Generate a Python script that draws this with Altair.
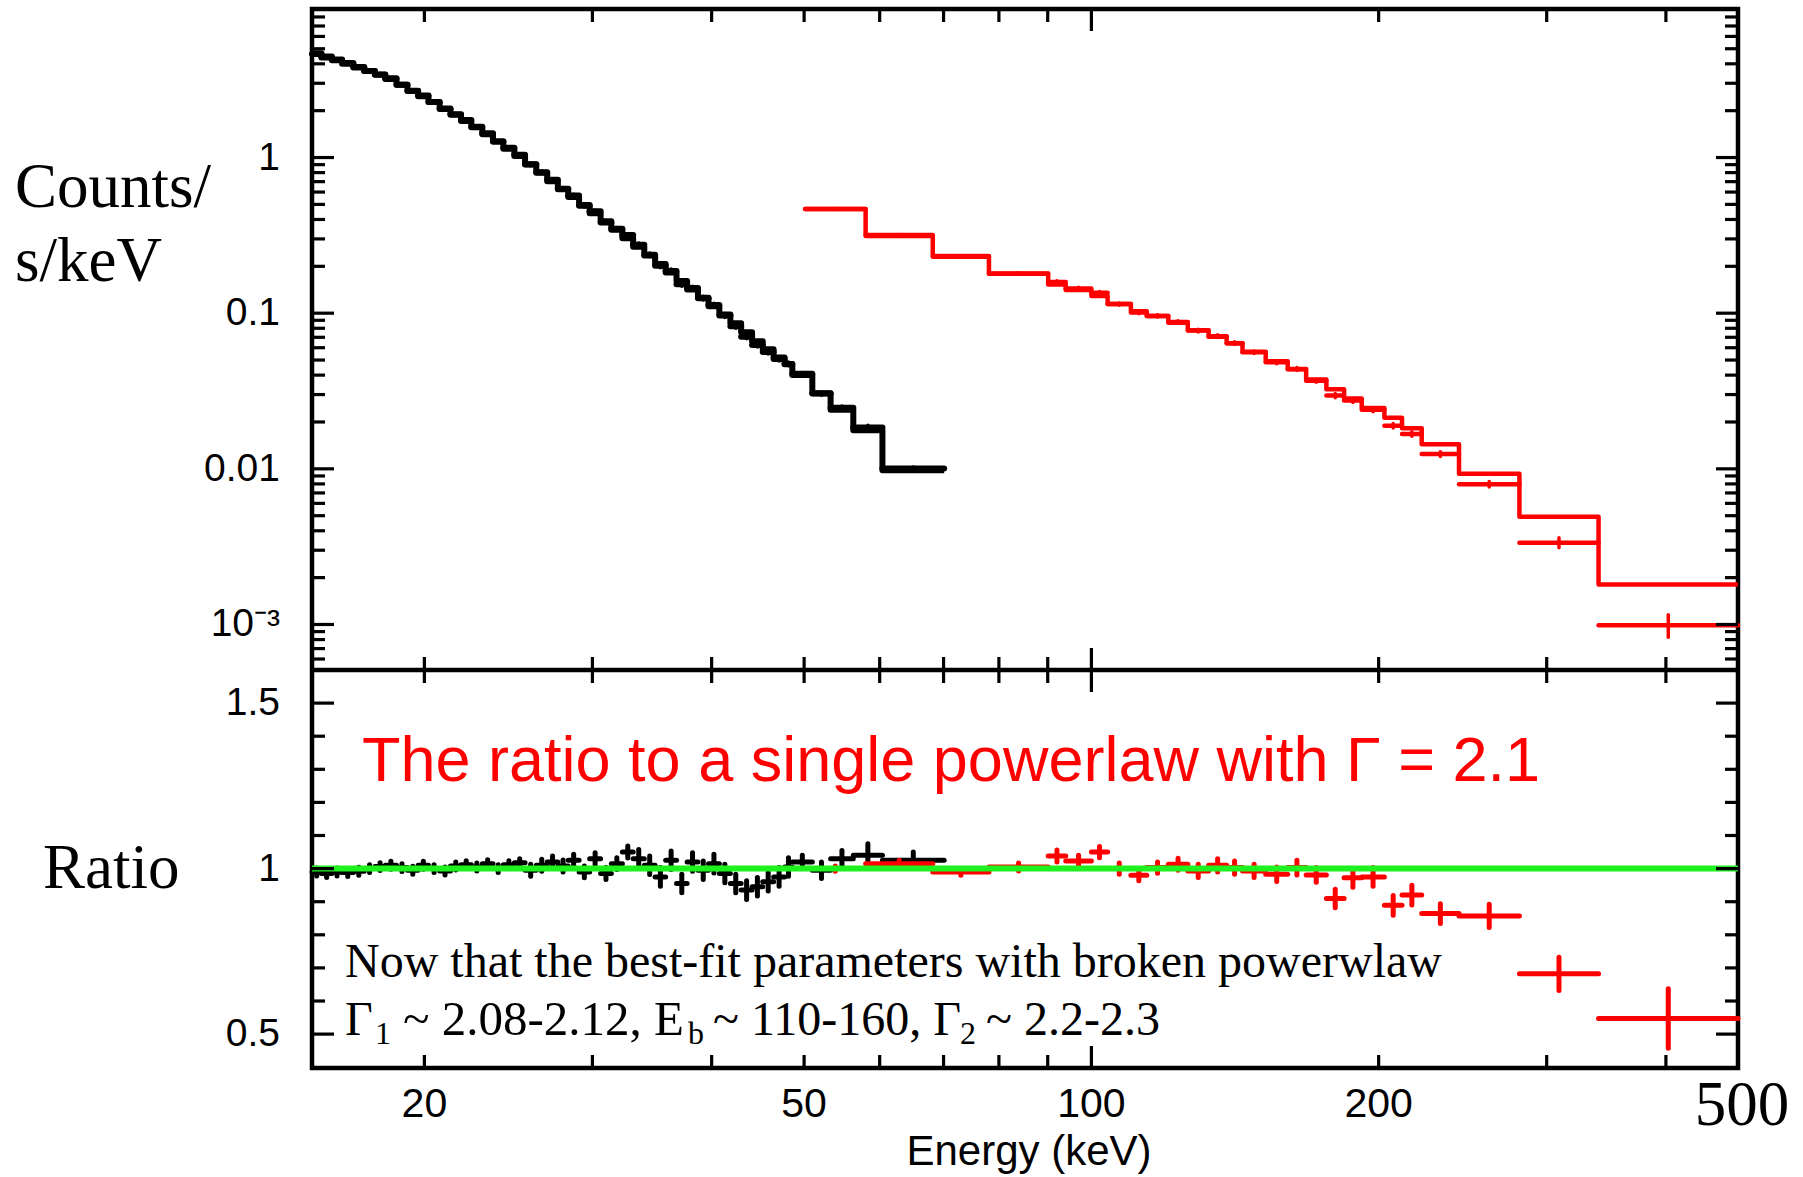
import math
import altair as alt
import pandas as pd

# ---------------- data ----------------
black_edges = [15.25, 15.6, 16.0, 16.4, 16.85, 17.3, 17.75, 18.2, 18.7, 19.2, 19.7, 20.2,
               20.75, 21.3, 21.85, 22.4, 23.0, 23.6, 24.2, 24.85, 25.5, 26.2, 26.9, 27.6,
               28.3, 29.05, 29.8, 30.6, 31.4, 32.25, 33.1, 34.0, 34.9, 35.8, 36.75, 37.7,
               38.7, 39.7, 40.75, 41.85, 42.95, 44.1, 45.25, 46.45, 47.7, 48.6, 51.0, 53.3,
               56.3, 60.4, 70.1]
black_model = [4.68, 4.46, 4.26, 4.05, 3.82, 3.60, 3.40, 3.20, 2.93, 2.69,
               2.475, 2.277, 2.068, 1.883, 1.719, 1.567, 1.411, 1.268, 1.140, 1.023,
               0.906, 0.797, 0.705, 0.626, 0.557, 0.495, 0.439, 0.389, 0.344, 0.303,
               0.267, 0.2346, 0.2068, 0.1823, 0.1608, 0.1421, 0.1255, 0.1110, 0.0981, 0.0862,
               0.0755, 0.0661, 0.0586, 0.0520, 0.0470, 0.0400, 0.0306, 0.0240, 0.0177, 0.0098]
black_ratio = [0.99, 0.985, 0.99, 0.988, 0.992, 1.0, 1.006, 1.01, 1.003, 0.995,
               1.01, 1.0, 0.993, 1.008, 1.012, 1.005, 1.015, 1.0, 1.012, 1.018,
               0.995, 1.01, 1.02, 1.008, 1.025, 0.99, 1.03, 0.985, 1.015, 1.05,
               1.03, 1.01, 0.975, 1.025, 0.955, 1.02, 0.995, 1.015, 0.985, 0.955,
               0.935, 0.945, 0.96, 0.975, 1.005, 1.02, 0.995, 1.03, 1.04, 1.025]
black_err = [0.012, 0.012, 0.012, 0.012, 0.012, 0.012, 0.012, 0.012, 0.012, 0.012,
             0.012, 0.012, 0.012, 0.012, 0.012, 0.012, 0.012, 0.012, 0.012, 0.012,
             0.018, 0.018, 0.018, 0.018, 0.018, 0.018, 0.018, 0.018, 0.018, 0.018,
             0.028, 0.028, 0.028, 0.028, 0.028, 0.028, 0.028, 0.028, 0.028, 0.028,
             0.028, 0.028, 0.028, 0.028, 0.028, 0.02, 0.025, 0.025, 0.035, 0.025]

red_edges = [50.1, 58.0, 68.2, 78.1, 90.1, 94.0, 100.0, 104.0, 110.0, 114.3, 120.4, 126.2,
             132.7, 138.6, 144.0, 152.3, 160.6, 167.9, 176.3, 184.0, 192.0, 202.8, 211.6,
             221.9, 242.8, 280.9, 340.0, 476.0]
red_model = [0.467, 0.313, 0.233, 0.179, 0.153, 0.141, 0.129, 0.1144, 0.103, 0.0958,
             0.0868, 0.0778, 0.0705, 0.064, 0.0565, 0.0492, 0.0437, 0.0375, 0.0325, 0.0283,
             0.0246, 0.0213, 0.0182, 0.0144, 0.0093, 0.00492, 0.00181]
red_ratio = [1.0, 1.015, 0.99, 1.005, 1.038, 1.023, 1.05, 1.0, 0.98, 1.003,
             1.013, 0.993, 1.01, 1.003, 0.993, 0.983, 1.003, 0.981, 0.91, 0.972,
             0.975, 0.889, 0.92, 0.864, 0.857, 0.682, 0.547]
red_err = [0.008, 0.01, 0.01, 0.012, 0.018, 0.017, 0.017, 0.017, 0.017, 0.017,
           0.018, 0.02, 0.02, 0.02, 0.02, 0.022, 0.022, 0.022, 0.028, 0.028,
           0.028, 0.03, 0.03, 0.03, 0.035, 0.05, 0.09]

# ticks and tick labels
x_minor_ticks = [20, 30, 40, 50, 60, 70, 80, 90, 200, 300, 400]
x_major_ticks = [100]
x_label_values = [20, 50, 100, 200]
x_labels = ["20", "50", "100", "200"]
x_edge_label = "500"
up_major_ticks = [0.001, 0.01, 0.1, 1]
up_minor_ticks = [6e-4, 7e-4, 8e-4, 9e-4,
                  0.002, 0.003, 0.004, 0.005, 0.006, 0.007, 0.008, 0.009,
                  0.02, 0.03, 0.04, 0.05, 0.06, 0.07, 0.08, 0.09,
                  0.2, 0.3, 0.4, 0.5, 0.6, 0.7, 0.8, 0.9,
                  2, 3, 4, 5, 6, 7, 8, 9]
up_label_values = [0.001, 0.01, 0.1, 1]
up_labels = ["10⁻³", "0.01", "0.1", "1"]
lo_major_ticks = [0.5, 1.0, 1.5]
lo_minor_ticks = [0.6, 0.7, 0.8, 0.9, 1.1, 1.2, 1.3, 1.4]
lo_label_values = [0.5, 1.0, 1.5]
lo_labels = ["0.5", "1", "1.5"]

# ---------------- geometry ----------------
W = 1426
H_UP = 661
H_LO = 398
H = H_UP + H_LO
X_DOMAIN = [15.25, 476.0]
UP_TOP, UP_BOT = 9.0, 5.1e-4
LO_BOT, LO_TOP = 0.3976, 1.6

dec_per_px = (math.log10(UP_TOP) - math.log10(UP_BOT)) / H_UP
up_ext_lo = 10 ** (math.log10(UP_TOP) - dec_per_px * H)
lo_ext_hi = LO_BOT + (LO_TOP - LO_BOT) / H_LO * H

xs = alt.Scale(type="log", domain=X_DOMAIN, nice=False)
ys_up = alt.Scale(type="log", domain=[up_ext_lo, UP_TOP], nice=False)
ys_lo = alt.Scale(type="linear", domain=[LO_BOT, lo_ext_hi], nice=False, zero=False)


def X(f):
    return alt.X(f, type="quantitative", scale=xs, axis=None)


def YU(f):
    return alt.Y(f, type="quantitative", scale=ys_up, axis=None)


def YL(f):
    return alt.Y(f, type="quantitative", scale=ys_lo, axis=None)


def bins_frame(edges, model, ratio, err):
    lo = edges[:-1]
    hi = edges[1:]
    df = pd.DataFrame({"lo": lo, "hi": hi, "m": model, "r": ratio, "e": err})
    df["c"] = [math.sqrt(a * b) for a, b in zip(lo, hi)]
    df["d"] = df["m"] * df["r"]
    df["dlo"] = df["m"] * (df["r"] - df["e"])
    df["dhi"] = df["m"] * (df["r"] + df["e"])
    df["rlo"] = df["r"] - df["e"]
    df["rhi"] = df["r"] + df["e"]
    return df


bdf = bins_frame(black_edges, black_model, black_ratio, black_err)
rdf = bins_frame(red_edges, red_model, red_ratio, red_err)
bstep = pd.DataFrame({"E": black_edges, "v": black_model + [black_model[-1]]})
rstep = pd.DataFrame({"E": red_edges, "v": red_model + [red_model[-1]]})

RED = "#ff0000"
GREEN = "#1ff01f"

layers = []

# model step lines
for df, col, sw in [(bstep, "black", 6), (rstep, RED, 4.5)]:
    layers.append(alt.Chart(df).mark_line(interpolate="step-after", color=col, strokeWidth=sw,
                                          strokeJoin="round")
                  .encode(x=X("E"), y=YU("v")))

# data crosses (upper) and ratio crosses (lower)
for df, col, sw in [(bdf, "black", 6), (rdf, RED, 4.5)]:
    layers.append(alt.Chart(df).mark_rule(color=col, strokeWidth=sw, strokeCap="round")
                  .encode(x=X("lo"), x2="hi", y=YU("d")))
    layers.append(alt.Chart(df).mark_rule(color=col, strokeWidth=3.5, strokeCap="round")
                  .encode(x=X("c"), y=YU("dlo"), y2="dhi"))
for df, col in [(bdf, "black"), (rdf, RED)]:
    layers.append(alt.Chart(df).mark_rule(color=col, strokeWidth=5, strokeCap="round")
                  .encode(x=X("lo"), x2="hi", y=YL("r")))
    layers.append(alt.Chart(df).mark_rule(color=col, strokeWidth=5, strokeCap="round")
                  .encode(x=X("c"), y=YL("rlo"), y2="rhi"))

# green unity line
layers.append(alt.Chart(pd.DataFrame({"r": [1.0]})).mark_rule(color=GREEN, strokeWidth=6)
              .encode(y=YL("r"), x=alt.value(0), x2=alt.value(W)))

# split line between panels
layers.append(alt.Chart(pd.DataFrame({"a": [0]})).mark_rule(color="black", strokeWidth=4.5)
              .encode(y=alt.value(H_UP), x=alt.value(0), x2=alt.value(W)))

# ticks (drawn inward, PGPLOT style)
TK = 3.2
MIN, MAJ = 13, 22


def vals(v):
    return pd.DataFrame({"v": v})


for v, L in [(x_minor_ticks, MIN), (x_major_ticks, MAJ)]:
    for y0, y1 in [(0, L), (H_UP - L, H_UP + L), (H, H - L)]:
        layers.append(alt.Chart(vals(v)).mark_rule(color="black", strokeWidth=TK)
                      .encode(x=X("v"), y=alt.value(y0), y2=alt.value(y1)))
for v, L in [(up_minor_ticks, MIN), (up_major_ticks, MAJ)]:
    for x0, x1 in [(0, L), (W, W - L)]:
        layers.append(alt.Chart(vals(v)).mark_rule(color="black", strokeWidth=TK)
                      .encode(y=YU("v"), x=alt.value(x0), x2=alt.value(x1)))
for v, L in [(lo_minor_ticks, MIN), (lo_major_ticks, MAJ)]:
    for x0, x1 in [(0, L), (W, W - L)]:
        layers.append(alt.Chart(vals(v)).mark_rule(color="black", strokeWidth=TK)
                      .encode(y=YL("v"), x=alt.value(x0), x2=alt.value(x1)))

# tick labels
SANS = "Liberation Sans"
SERIF = "Liberation Serif"
layers.append(alt.Chart(pd.DataFrame({"v": up_label_values, "t": up_labels}))
              .mark_text(align="right", baseline="middle", font=SANS, fontSize=39, color="black")
              .encode(y=YU("v"), x=alt.value(-32), text="t"))
layers.append(alt.Chart(pd.DataFrame({"v": lo_label_values, "t": lo_labels}))
              .mark_text(align="right", baseline="middle", font=SANS, fontSize=39, color="black")
              .encode(y=YL("v"), x=alt.value(-32), text="t"))
layers.append(alt.Chart(pd.DataFrame({"v": x_label_values, "t": x_labels}))
              .mark_text(align="center", baseline="top", font=SANS, fontSize=41, color="black")
              .encode(x=X("v"), y=alt.value(H + 17), text="t"))


def text(t, x, y, font, size, color="black", align="left"):
    return (alt.Chart(pd.DataFrame({"t": [t]}))
            .mark_text(align=align, baseline="alphabetic", font=font, fontSize=size, color=color)
            .encode(text="t", x=alt.value(x), y=alt.value(y)))


layers.append(text(x_edge_label, 1430, 1116, SERIF, 63, align="center"))
layers.append(text("Energy (keV)", 717, 1156, SANS, 42, align="center"))
layers.append(text("Counts/", -297, 198, SERIF, 63))
layers.append(text("s/keV", -297, 272, SERIF, 63))
layers.append(text("Ratio", -269, 879, SERIF, 63))
layers.append(text("The ratio to a single powerlaw with Γ = 2.1", 50, 772, SANS, 63, color=RED))
layers.append(text("Now that the best-fit parameters with broken powerwlaw", 33, 968, SERIF, 48))
for t, x, size, dy in [("Γ", 33, 48, 0), ("1", 63, 32, 9), ("~ 2.08-2.12, E", 91, 49, 0),
                       ("b", 376, 32, 9), ("~ 110-160, Γ", 401, 48, 0), ("2", 648, 32, 9),
                       ("~ 2.2-2.3", 674, 48, 0)]:
    layers.append(text(t, x, 1026 + dy, SERIF, size))

chart = (alt.layer(*layers)
         .resolve_scale(y="independent")
         .properties(width=W, height=H,
                     padding={"left": 312, "top": 9, "right": 65, "bottom": 109},
                     autosize="none")
         .configure_view(stroke="black", strokeWidth=4.5))

chart.save("out.html", embed_options={"renderer": "svg", "actions": False})
